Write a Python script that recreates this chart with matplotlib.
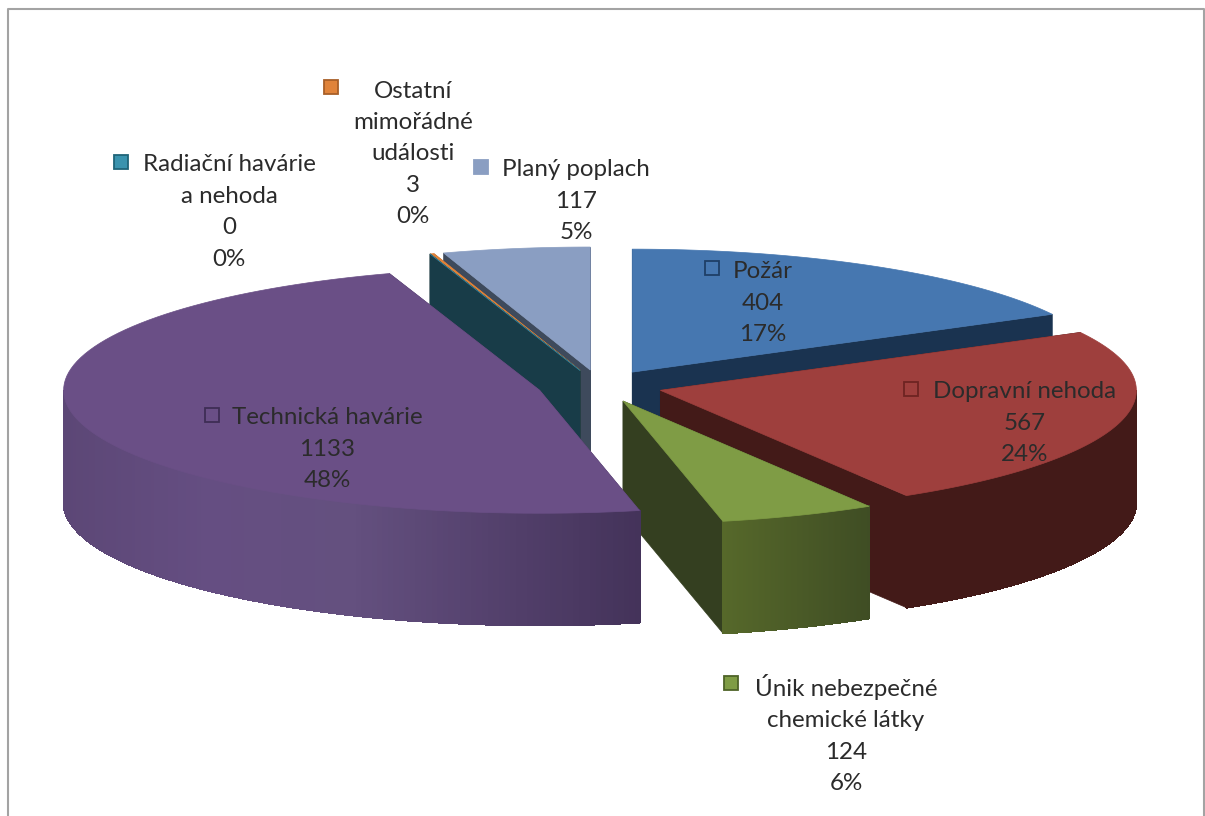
# 3D exploded pie of incident types, drawn by hand since matplotlib has no 3D pie
import numpy as np
import matplotlib.pyplot as plt
from matplotlib.colors import LinearSegmentedColormap
from matplotlib.patches import Polygon, Rectangle

plt.rcParams['font.family'] = ['Lato', 'DejaVu Sans']

names = ['Požár', 'Dopravní nehoda', 'Únik nebezpečné\nchemické látky',
  'Technická havárie', 'Radiační havárie\na nehoda',
  'Ostatní\nmimořádné\nudálosti', 'Planý poplach']
values = [404, 567, 124, 1133, 0, 3, 117]
percents = [17, 24, 6, 48, 0, 0, 5]

top_colors = ['#4677B0', '#9E3F3D', '#7F9C45', '#6A4F86', '#3A93AE', '#E0833A', '#8A9EC2']
cut_colors = ['#1A3350', '#431A18', '#343F20', '#45345B', '#183C48', '#A85F28', '#3E4A5C']
# outer wall colours, left to right on screen
wall_colors = [['#1A3350'], ['#431A18'], ['#56682A', '#3F4D24'],
  ['#5C4776', '#654E82', '#64507F', '#54416D', '#44335A'], ['#183C48'], ['#A85F28'], ['#3E4A5C']]
key_edges = ['#1F3F66', '#6E2422', '#4E6328', '#3E2D55', '#1F6478', '#A85F28', '#8A9EC2']

label_xy = [(763, 303), (1025, 423), (846, 734), (327, 449), (229, 212), (413, 154), (576, 201)]
key_xy = [(712, 268), (911, 389), (731, 683), (212, 415), (121, 162), (331, 87), (481, 167)]

# pie geometry in pixels
cx, cy = 600, 386
a, b = 476, 123
depth = 112
explode = 0.1315

fig = plt.figure(figsize=(12.05, 8.16), dpi=100)
ax = fig.add_axes([0, 0, 1, 1])
ax.set_xlim(0, 1205)
ax.set_ylim(816, 0)
ax.axis('off')

# chart frame, runs off the bottom of the page
ax.plot([7.5, 7.5, 1204, 1204], [816, 9, 9, 816], color='#A3A3A3', lw=1.5)

def rim(t, ox, oy):
  # t in radians, clockwise from 12 o'clock
  return ox + a*np.sin(t), oy - b*np.cos(t)

def drawWedge(i, start, stop):
  mid = (start + stop)/2
  ox = cx + explode*a*np.sin(mid)
  oy = cy - explode*b*np.cos(mid)

  # the two cut faces
  for t in (start, stop):
    x, y = rim(t, ox, oy)
    ax.add_patch(Polygon([(ox, oy), (x, y), (x, y + depth), (ox, oy + depth)],
      fc=cut_colors[i], ec=cut_colors[i], lw=0.5))

  # outer wall, only the front half can be seen
  lo, hi = max(start, np.pi/2), min(stop, 3*np.pi/2)
  if hi > lo:
    cmap = LinearSegmentedColormap.from_list('wall', wall_colors[i]*2 if len(wall_colors[i]) == 1 else wall_colors[i])
    ts = np.linspace(lo, hi, 150)
    xs, ys = rim(ts, ox, oy)
    for j in range(len(ts) - 1):
      # stops are in screen x so the shading runs left to right
      c = cmap((xs[j] - xs.min())/(xs.max() - xs.min()))
      ax.add_patch(Polygon([(xs[j], ys[j]), (xs[j+1], ys[j+1]),
        (xs[j+1], ys[j+1] + depth), (xs[j], ys[j] + depth)], fc=c, ec=c, lw=0.8, antialiased=False))

  # top surface
  ts = np.linspace(start, stop, 100)
  xs, ys = rim(ts, ox, oy)
  ax.add_patch(Polygon(np.vstack([[ox, oy], np.column_stack([xs, ys])]),
    fc=top_colors[i], ec=top_colors[i], lw=0.5))

edges = np.concatenate([[0], np.cumsum(values)])/np.sum(values)*2*np.pi

# painter's order, back slices first
for i in [6, 5, 4, 0, 1, 2, 3]:
  drawWedge(i, edges[i], edges[i+1])

for i in range(len(names)):
  x, y = label_xy[i]
  ax.text(x, y, '%s\n%d\n%d%%' % (names[i], values[i], percents[i]), ha='center', va='center',
    multialignment='center', fontsize=17.4, color='#2B2B2B', linespacing=1.61)
  kx, ky = key_xy[i]
  ax.add_patch(Rectangle((kx - 7, ky - 7), 14, 14, fc=top_colors[i], ec=key_edges[i], lw=1.3))

fig.savefig('out.png', dpi=100)
